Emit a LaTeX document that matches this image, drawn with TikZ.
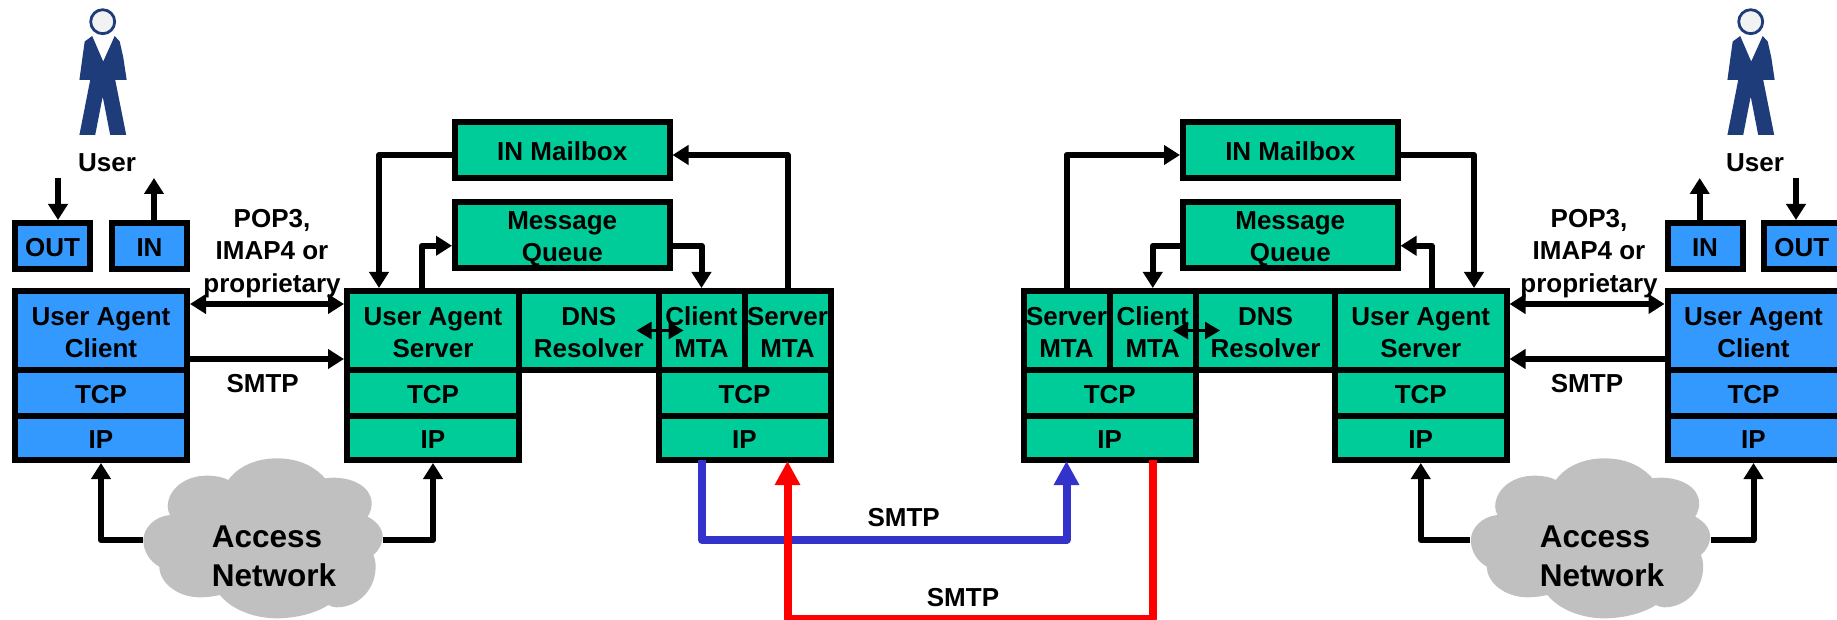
\documentclass[tikz,border=0pt]{standalone}
\usepackage{fontspec}
\setmainfont{Liberation Sans}
\usetikzlibrary{arrows.meta}
\definecolor{cgreen}{HTML}{00CC99}
\definecolor{cblue}{HTML}{3399FF}
\definecolor{cnavy}{HTML}{1F3C7A}
\definecolor{carrow}{HTML}{3333CC}
\definecolor{cgray}{HTML}{C0C0C0}
\tikzset{
  cell/.style={draw=black,line width=6pt,inner sep=0pt,align=center,text=black,
    font=\fontsize{26}{32}\selectfont\bfseries},
  gcell/.style={cell,fill=cgreen},
  bcell/.style={cell,fill=cblue},
  conn/.style={draw=black,line width=6pt,line join=round,-{Triangle[length=16pt,width=19pt]}},
  dconn/.style={draw=black,line width=5.5pt,{Triangle[length=16pt,width=19pt]}-{Triangle[length=16pt,width=19pt]}},
  thin conn/.style={draw=black,line width=2.5pt,{Triangle[length=15pt,width=17pt]}-{Triangle[length=15pt,width=17pt]}},
  smtp link/.style={line width=8pt,line join=round,-{Triangle[length=24pt,width=24pt]}},
  lbl/.style={inner sep=0pt,align=center,font=\fontsize{26}{32.5}\selectfont\bfseries},
  netlbl/.style={inner sep=0pt,align=left,font=\fontsize{31.5}{39}\selectfont\bfseries},
  cloudshape/.style={inner sep=0pt,minimum width=240pt,minimum height=162pt,path picture={
    \fill[cgray,x=0.3333pt,y=-0.3333pt]
      (186,-179) .. controls (150,-220) and (100,-239) .. (41,-239)
      .. controls (-20,-239) and (-75,-215) .. (-104,-174)
      .. controls (-120,-183) and (-145,-187) .. (-169,-187)
      .. controls (-235,-187) and (-286,-145) .. (-286,-94)
      .. controls (-286,-85) and (-283,-77) .. (-279,-69)
      .. controls (-325,-65) and (-359,-30) .. (-359,6)
      .. controls (-359,40) and (-340,70) .. (-311,86)
      .. controls (-311,135) and (-255,178) .. (-189,178)
      .. controls (-168,178) and (-148,175) .. (-129,171)
      .. controls (-95,215) and (-25,241) .. (41,241)
      .. controls (100,241) and (160,225) .. (196,201)
      .. controls (204,205) and (212,208) .. (221,208)
      .. controls (285,208) and (338,155) .. (338,86)
      .. controls (338,72) and (335,60) .. (331,51)
      .. controls (350,35) and (359,15) .. (359,-4)
      .. controls (359,-30) and (340,-50) .. (314,-64)
      .. controls (322,-76) and (326,-90) .. (326,-104)
      .. controls (326,-150) and (275,-181) .. (211,-181)
      .. controls (203,-181) and (195,-180) .. (186,-179) -- cycle;
  }},
  person/.pic={
    \fill[cnavy] (-10.5,36) -- (-18,41.5) -- (-21,63) -- (-23.3,80) -- (-12.5,80) -- (-23.3,135)
      -- (-7.5,135) -- (0,96.5) -- (7.5,135) -- (23.5,135) -- (12.5,80) -- (24,80)
      -- (20.5,57) -- (17,41.5) -- (12,36) -- (0.5,61.5) -- cycle;
    \draw[cnavy,line width=2.8pt,fill=white!95!black] (0,21.7) circle [radius=12];
  }
}
% name, x1, y1, x2, y2, style, text
\newcommand{\cellbox}[7]{%
  \node[#6,minimum width={(#4-(#2))*1pt},minimum height={(#5-(#3))*1pt}] (#1)
    at ({(#2+#4)/2},{(#3+#5)/2}) {#7};}
% pushes the text of a node down by #1 pt
\newcommand{\nudge}[1]{\rule{0pt}{\dimexpr18.8pt+#1pt+#1pt\relax}}
\begin{document}
\begin{tikzpicture}[x=1pt,y=-1pt]
\path[use as bounding box] (0,0) rectangle (1837,620);
\clip (0,0) rectangle (1837,620);
% persons
\pic at (102.7,0) {person};
\pic at (1750.7,0) {person};
\node[lbl] (luser) at (107,163) {User};
\node[lbl] (ruser) at (1755,163) {User};
\coordinate (luo) at (58,178);
\coordinate (lui) at (154,178);
\coordinate (rui) at (1699.7,178);
\coordinate (ruo) at (1796,178);
% left client
\cellbox{lout}{15}{223}{90}{269}{bcell}{\nudge{1}OUT}
\cellbox{lin}{112}{223}{187}{269}{bcell}{\nudge{1}IN}
\cellbox{luac}{15}{291}{187}{370}{bcell}{\nudge{2}User Agent\\Client}
\cellbox{luactcp}{15}{370}{187}{416}{bcell}{\nudge{1}TCP}
\cellbox{luacip}{15}{416}{187}{460}{bcell}{\nudge{1}IP}
% left server
\cellbox{lmb}{455}{122}{669.5}{178}{gcell}{\nudge{1}IN Mailbox}
\cellbox{lmq}{455}{202}{669.5}{268.5}{gcell}{\nudge{3.5}Message\\Queue}
\cellbox{luas}{347}{291}{519}{370}{gcell}{\nudge{2}User Agent\\Server}
\cellbox{ldns}{519}{291}{658.5}{370}{gcell}{\nudge{2}DNS\\Resolver}
\cellbox{lcmta}{658.5}{291}{744.5}{370}{gcell}{\nudge{2}Client\\MTA}
\cellbox{lsmta}{744.5}{291}{830.5}{370}{gcell}{\nudge{2}Server\\MTA}
\cellbox{luastcp}{347}{370}{519}{416}{gcell}{\nudge{1}TCP}
\cellbox{luasip}{347}{416}{519}{460}{gcell}{\nudge{1}IP}
\cellbox{ltcp}{658.5}{370}{830.5}{416}{gcell}{\nudge{1}TCP}
\cellbox{lip}{658.5}{416}{830.5}{460}{gcell}{\nudge{1}IP}
% right server
\cellbox{rmb}{1183}{122}{1397.5}{178}{gcell}{\nudge{1}IN Mailbox}
\cellbox{rmq}{1183}{202}{1397.5}{268.5}{gcell}{\nudge{3.5}Message\\Queue}
\cellbox{rsmta}{1023.5}{291}{1109.5}{370}{gcell}{\nudge{2}Server\\MTA}
\cellbox{rcmta}{1109.5}{291}{1196}{370}{gcell}{\nudge{2}Client\\MTA}
\cellbox{rdns}{1196}{291}{1335}{370}{gcell}{\nudge{2}DNS\\Resolver}
\cellbox{ruas}{1335}{291}{1506.5}{370}{gcell}{\nudge{2}User Agent\\Server}
\cellbox{rtcp}{1023.5}{370}{1196}{416}{gcell}{\nudge{1}TCP}
\cellbox{rip}{1023.5}{416}{1196}{460}{gcell}{\nudge{1}IP}
\cellbox{ruastcp}{1335}{370}{1506.5}{416}{gcell}{\nudge{1}TCP}
\cellbox{ruasip}{1335}{416}{1506.5}{460}{gcell}{\nudge{1}IP}
% right client
\cellbox{rin}{1667.5}{223}{1742.5}{269}{bcell}{\nudge{1}IN}
\cellbox{rout}{1764}{223}{1839.5}{269}{bcell}{\nudge{1}OUT}
\cellbox{ruac}{1667.5}{291}{1839.5}{370}{bcell}{\nudge{2}User Agent\\Client}
\cellbox{ruactcp}{1667.5}{370}{1839.5}{416}{bcell}{\nudge{1}TCP}
\cellbox{ruacip}{1667.5}{416}{1839.5}{460}{bcell}{\nudge{1}IP}
% clouds
\node[cloudshape] (lcloud) at (263,538) {};
\node[cloudshape] (rcloud) at (1590.5,538) {};
\node[netlbl] (lnet) at (274,556.5) {Access\\Network};
\node[netlbl] (rnet) at (1602,556.5) {Access\\Network};
% labels
\node[lbl] (lpop) at (272,253.5) {POP3,\\IMAP4 or\\proprietary};
\node[lbl] (rpop) at (1589,253.5) {POP3,\\IMAP4 or\\proprietary};
\node[lbl] (lsmtp) at (262.7,384) {SMTP};
\node[lbl] (rsmtp) at (1587,384) {SMTP};
\node[lbl] (bsmtp) at (903.7,517.7) {SMTP};
\node[lbl] (csmtp) at (963,597.7) {SMTP};
% user arrows
\draw[conn] (luo) -- (luo |- lout.north);
\draw[conn] (lui |- lin.north) -- (lui);
\draw[conn] (rui |- rin.north) -- (rui);
\draw[conn] (ruo) -- (ruo |- rout.north);
% left connectors
\draw[dconn] ([yshift=26.5pt]luac.east) -- ([yshift=26.5pt]luas.west);
\draw[conn] ([yshift=-28.5pt]luac.east) -- ([yshift=-28.5pt]luas.west);
\draw[conn] ([yshift=-5pt]lmb.west) -| ([xshift=-54pt]luas.north);
\draw[conn] ([xshift=-11pt]luas.north) |- ([yshift=-10.5pt]lmq.west);
\draw[conn] ([yshift=-10.5pt]lmq.east) -| (lcmta.north);
\draw[conn] (lsmta.north) |- ([yshift=-5pt]lmb.east);
\draw[thin conn] ([xshift=-25pt]ldns.east) -- ([xshift=28pt]lcmta.west);
\draw[conn] ([yshift=-2pt]lcloud.west) -| (luacip.south);
\draw[conn] ([yshift=-2pt]lcloud.east) -| (luasip.south);
% right connectors
\draw[dconn] ([yshift=26.5pt]ruas.east) -- ([yshift=26.5pt]ruac.west);
\draw[conn] ([yshift=-28.5pt]ruac.west) -- ([yshift=-28.5pt]ruas.east);
\draw[conn] (rsmta.north) |- ([yshift=-5pt]rmb.west);
\draw[conn] ([yshift=-5pt]rmb.east) -| ([xshift=53.25pt]ruas.north);
\draw[conn] ([yshift=-10.5pt]rmq.west) -| (rcmta.north);
\draw[conn] ([xshift=11pt]ruas.north) |- ([yshift=-10.5pt]rmq.east);
\draw[thin conn] ([xshift=-26pt]rcmta.east) -- ([xshift=27pt]rdns.west);
\draw[conn] ([yshift=-2pt]rcloud.west) -| (ruasip.south);
\draw[conn] ([yshift=-2pt]rcloud.east) -| (ruacip.south);
% SMTP links between servers
\coordinate (bluey) at (880,540);
\coordinate (redy) at (970,619);
\draw[smtp link,draw=carrow,-{Triangle[length=24pt,width=24pt,fill=carrow]}]
  ([xshift=-42.5pt,yshift=3pt]lip.south) |- (bluey) -| ([xshift=-43.25pt,yshift=2pt]rip.south);
\draw[smtp link,draw=red,-{Triangle[length=24pt,width=24pt,fill=red]}]
  ([xshift=42.75pt,yshift=3pt]rip.south) |- (redy) -| ([xshift=43pt,yshift=2pt]lip.south);
\end{tikzpicture}
\end{document}
